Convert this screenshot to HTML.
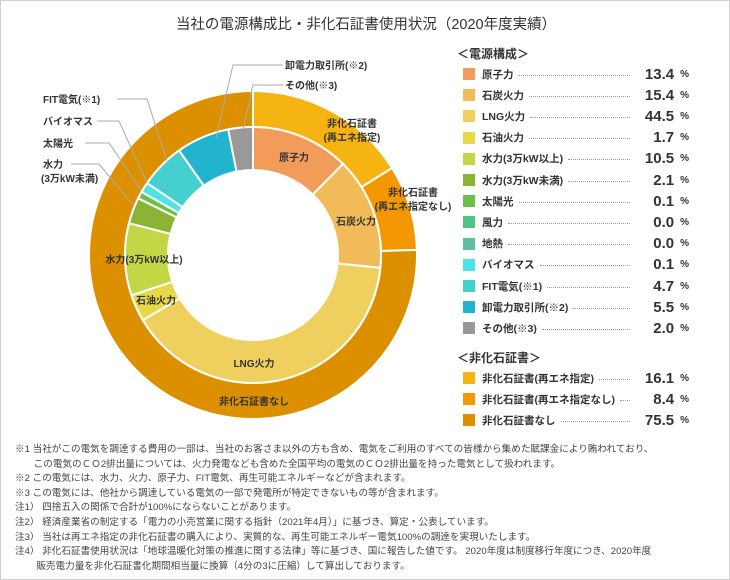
<!DOCTYPE html>
<html><head><meta charset="utf-8">
<style>
html,body{margin:0;padding:0;background:#fff;}
#wrap{position:relative;width:728px;height:578px;border:1px solid #cfcfcf;overflow:hidden;font-family:"Liberation Sans","Noto Sans CJK JP",sans-serif;color:#333;}
#title{position:absolute;left:0;top:12px;width:730px;text-align:center;font-size:14.5px;color:#333;}
svg{position:absolute;left:0;top:0;}
.lg-h{position:absolute;left:456px;font-size:12px;font-weight:bold;color:#333;}
.row{position:absolute;left:462px;width:226px;height:14px;display:flex;align-items:center;}
.sw{width:12px;height:12px;margin-right:7px;flex:none;}
.lb{font-size:10.5px;font-weight:bold;white-space:nowrap;}
.dots{flex:1;border-bottom:1.5px dotted #999;margin:0 4px 0 5px;height:0;position:relative;top:1px;}
.val{font-size:15px;font-weight:bold;width:40px;text-align:right;flex:none;}
.pc{font-size:10px;font-weight:bold;margin-left:6px;flex:none;}
#notes{position:absolute;left:14px;top:442px;font-size:9.6px;line-height:14.6px;color:#444;white-space:nowrap;}
.lbl{font-size:10px;font-weight:bold;fill:#333;}
</style></head><body>
<div id="wrap">
<div id="title">当社の電源構成比・非化石証書使用状況（2020年度実績）</div>
<svg id="chart" width="730" height="440"></svg>

<div class="lg-h" style="top:44px">＜電源構成＞</div>
<div class="lg-h" style="top:348px">＜非化石証書＞</div>
<div id="legend"></div>

<div id="notes">
<div>※1 当社がこの電気を調達する費用の一部は、当社のお客さま以外の方も含め、電気をご利用のすべての皆様から集めた賦課金により賄われており、</div>
<div>&nbsp;&nbsp;&nbsp;&nbsp;&nbsp;&nbsp;&nbsp;この電気のＣＯ2排出量については、火力発電なども含めた全国平均の電気のＣＯ2排出量を持った電気として扱われます。</div>
<div>※2 この電気には、水力、火力、原子力、FIT電気、再生可能エネルギーなどが含まれます。</div>
<div>※3 この電気には、他社から調達している電気の一部で発電所が特定できないもの等が含まれます。</div>
<div>注1）&nbsp;四捨五入の関係で合計が100%にならないことがあります。</div>
<div>注2）&nbsp;経済産業省の制定する「電力の小売営業に関する指針（2021年4月）」に基づき、算定・公表しています。</div>
<div>注3）&nbsp;当社は再エネ指定の非化石証書の購入により、実質的な、再生可能エネルギー電気100%の調達を実現いたします。</div>
<div>注4）&nbsp;非化石証書使用状況は「地球温暖化対策の推進に関する法律」等に基づき、国に報告した値です。 2020年度は制度移行年度につき、2020年度</div>
<div>&nbsp;&nbsp;&nbsp;&nbsp;&nbsp;&nbsp;&nbsp;&nbsp;販売電力量を非化石証書化期間相当量に換算（4分の3に圧縮）して算出しております。</div>
</div>
</div>
<script>
// Power mix (inner ring) – legend values
const mixNames = ["原子力","石炭火力","LNG火力","石油火力","水力(3万kW以上)","水力(3万kW未満)","太陽光","風力","地熱","バイオマス","FIT電気(※1)","卸電力取引所(※2)","その他(※3)"];
const mixValues = [13.4,15.4,44.5,1.7,10.5,2.1,0.1,0.0,0.0,0.1,4.7,5.5,2.0];
// Drawn slice shares (%)
const mixDrawn = [12.4,14.2,39.9,3.4,9.1,3.3,0.9,0,0,1.3,5.7,6.7,3.1];
const mixColors = ["#f39b59","#f2bb59","#efd05e","#e6d849","#c3d646","#8cb434","#6cc04a","#4fc384","#5cbfa2","#4ee3e6","#45cfcf","#22b4cf","#999999"];
// Non-fossil certificates (outer ring)
const certNames = ["非化石証書(再エネ指定)","非化石証書(再エネ指定なし)","非化石証書なし"];
const certValues = [16.1,8.4,75.5];
const certColors = ["#f6b413","#f39800","#dc9000"];

const NS="http://www.w3.org/2000/svg";
const svg=document.getElementById('chart');
const cx=252, cy=254;
function pt(r,a){const t=a*Math.PI/180;return [cx+r*Math.sin(t), cy-r*Math.cos(t)];}
function angleScale(v,total){return v/total*360;}
function arcPath(r0,r1,a0,a1){
  if(a1-a0>=359.99)a1=a0+359.99;
  const L=(a1-a0)>180?1:0;
  const p1=pt(r1,a0),p2=pt(r1,a1),p3=pt(r0,a1),p4=pt(r0,a0);
  return `M${p1[0]},${p1[1]}A${r1},${r1} 0 ${L} 1 ${p2[0]},${p2[1]}L${p3[0]},${p3[1]}A${r0},${r0} 0 ${L} 0 ${p4[0]},${p4[1]}Z`;
}
function drawRing(vals,cols,names,r0,r1,prefix){
  const tot=vals.reduce((a,b)=>a+b,0);let a=0;
  vals.forEach((v,i)=>{
    const a1=a+angleScale(v,tot);
    if(v>0){
      const p=document.createElementNS(NS,'path');
      p.setAttribute('d',arcPath(r0,r1,a,a1));
      p.setAttribute('fill',cols[i]);p.setAttribute('stroke','#fff');p.setAttribute('stroke-width','2');
      
      
      svg.appendChild(p);
    }
    a=a1;
  });
}
drawRing(certValues,certColors,certNames,128,164,'cert');
drawRing(mixDrawn,mixColors,mixNames,85,128,'mix');

function txt(x,y,s,anchor){
  const t=document.createElementNS(NS,'text');
  t.setAttribute('x',x);t.setAttribute('y',y);t.setAttribute('class','lbl');
  t.setAttribute('text-anchor',anchor||'middle');t.textContent=s;
  
  
  svg.appendChild(t);
}
function line(pts){
  const l=document.createElementNS(NS,'polyline');
  l.setAttribute('points',pts);l.setAttribute('fill','none');l.setAttribute('stroke','#aaa');l.setAttribute('stroke-width','1');
  
  
  svg.appendChild(l);
}
txt(293,160,'原子力');txt(355,224,'石炭火力');txt(143,262,'水力(3万kW以上)');txt(155,303,'石油火力');
txt(253,366,'LNG火力');txt(253,404,'非化石証書なし');
txt(351,126,'非化石証書');txt(351,140,'(再エネ指定)');
txt(412,195,'非化石証書');txt(412,209,'(再エネ指定なし)');
line('282,64 232,64 215,137');txt(284,68,'卸電力取引所(※2)','start');
line('282,84 252,84 242,128');txt(284,88,'その他(※3)','start');
line('116,98 146,98 166,160');txt(42,102,'FIT電気(※1)','start');
line('96,120 118,120 146,182');txt(42,124,'バイオマス','start');
line('84,142 108,142 140,189');txt(42,146,'太陽光','start');
line('70,163 98,163 133,205');txt(42,167,'水力','start');txt(40,181,'(3万kW未満)','start');

const lg=document.getElementById('legend');
function addRow(top,name,val,col,key){
  const r=document.createElement('div');r.className='row';r.style.top=top+'px';
  
  
  r.innerHTML=`<div class="sw" style="background:${col}"></div><div class="lb">${name}</div><div class="dots"></div><div class="val">${val.toFixed(1)}</div><div class="pc">%</div>`;
  lg.appendChild(r);
}
mixNames.forEach((n,i)=>addRow(66+i*21.2,n,mixValues[i],mixColors[i],'mix-'+i));
certNames.forEach((n,i)=>addRow(370+i*21.2,n,certValues[i],certColors[i],'cert-'+i));
</script>
</body></html>
